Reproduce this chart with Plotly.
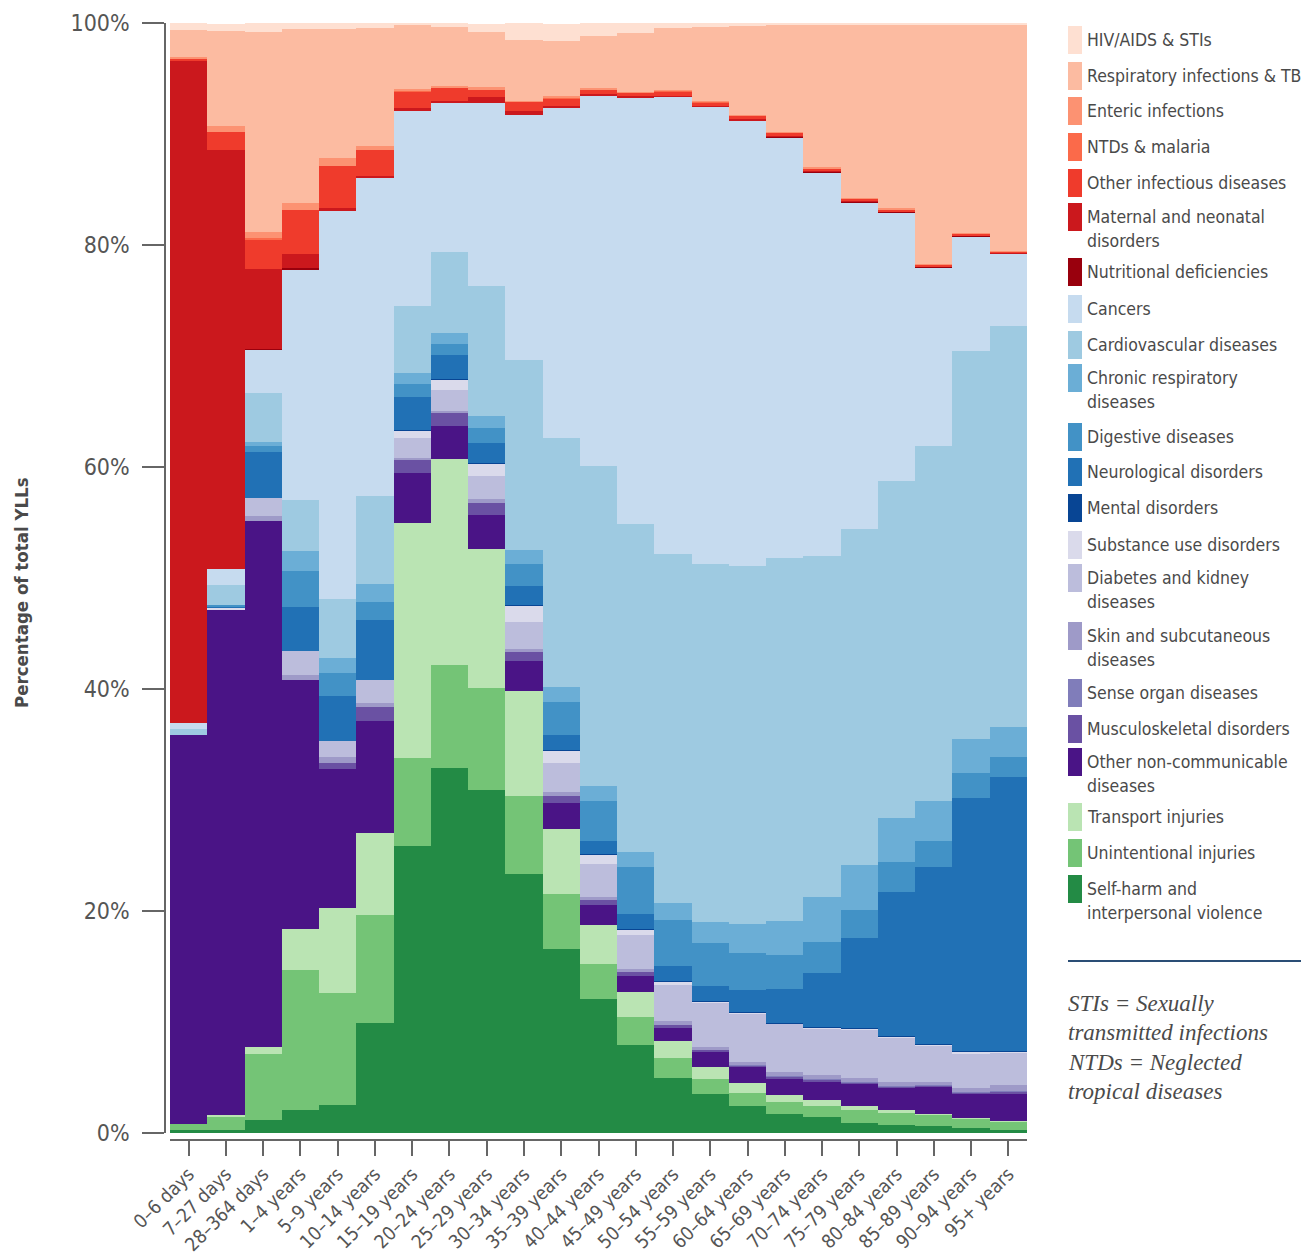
import plotly.graph_objects as go

age_groups = ["0–6 days", "7–27 days", "28–364 days", "1–4 years", "5–9 years", "10–14 years",
              "15–19 years", "20–24 years", "25–29 years", "30–34 years", "35–39 years",
              "40–44 years", "45–49 years", "50–54 years", "55–59 years", "60–64 years",
              "65–69 years", "70–74 years", "75–79 years", "80–84 years", "85–89 years",
              "90–94 years", "95+ years"]

# Percent of total YLLs per age group, bottom of stack first
self_harm = [0.3, 0.3, 1.15, 2.1, 2.5, 9.9, 25.85, 32.85, 30.9, 23.35, 16.55, 12.05, 7.9, 5.0, 3.5, 2.45, 1.7, 1.4, 0.9, 0.7, 0.65, 0.45, 0.3]
unintentional = [0.5, 1.2, 6.0, 12.55, 10.1, 9.75, 7.95, 9.3, 9.15, 7.0, 5.0, 3.15, 2.55, 1.75, 1.35, 1.15, 1.1, 1.0, 1.15, 1.1, 1.0, 0.85, 0.75]
transport = [0, 0.1, 0.6, 3.7, 7.65, 7.4, 21.2, 18.55, 12.6, 9.45, 5.85, 3.5, 2.25, 1.5, 1.1, 0.9, 0.6, 0.55, 0.35, 0.3, 0.1, 0.05, 0.05]
other_ncd = [35.1, 45.6, 47.4, 22.45, 12.55, 10.1, 4.5, 2.95, 3.05, 2.7, 2.3, 1.8, 1.45, 1.2, 1.35, 1.45, 1.55, 1.7, 2.05, 2.0, 2.4, 2.2, 2.5]
musculoskeletal = [0, 0, 0, 0, 0.5, 1.25, 1.2, 1.2, 1.1, 0.8, 0.7, 0.45, 0.4, 0.3, 0.15, 0.1, 0.1, 0.15, 0.1, 0.1, 0.1, 0.1, 0.1]
sense_organ = [0, 0, 0, 0, 0, 0, 0, 0, 0, 0, 0, 0, 0, 0, 0, 0.05, 0.05, 0.05, 0.05, 0.05, 0.05, 0.05, 0.05]
skin = [0, 0, 0.45, 0.45, 0.55, 0.35, 0.15, 0.2, 0.3, 0.3, 0.3, 0.35, 0.25, 0.3, 0.3, 0.3, 0.4, 0.35, 0.35, 0.35, 0.3, 0.35, 0.55]
diabetes_kidney = [0, 0, 1.6, 2.15, 1.45, 2.05, 1.8, 1.85, 2.05, 2.45, 2.6, 2.9, 3.05, 3.25, 4.0, 4.35, 4.35, 4.2, 4.35, 4.0, 3.25, 3.15, 2.95]
substance_use = [0, 0.1, 0, 0, 0, 0, 0.65, 1.0, 1.2, 1.45, 1.15, 0.9, 0.5, 0.35, 0.1, 0.1, 0.05, 0.1, 0.1, 0.1, 0.1, 0.1, 0.05]
mental = [0, 0, 0, 0, 0, 0, 0.05, 0.05, 0.05, 0.1, 0.05, 0.05, 0.05, 0.05, 0.05, 0.05, 0.05, 0.05, 0.05, 0.05, 0.05, 0.05, 0.05]
neurological = [0, 0.1, 4.15, 3.95, 4.1, 5.4, 3.0, 2.15, 1.75, 1.65, 1.4, 1.2, 1.35, 1.35, 1.35, 1.95, 3.0, 4.9, 8.15, 12.95, 15.95, 22.85, 24.75]
digestive = [0, 0.2, 0.5, 3.3, 2.05, 1.65, 1.1, 1.0, 1.35, 2.0, 2.9, 3.6, 4.25, 4.1, 3.85, 3.4, 3.1, 2.8, 2.45, 2.7, 2.4, 2.25, 1.8]
chronic_resp = [0, 0, 0.4, 1.8, 1.3, 1.6, 1.05, 1.0, 1.1, 1.25, 1.35, 1.3, 1.35, 1.55, 1.95, 2.6, 3.05, 4.05, 4.05, 3.95, 3.55, 3.05, 2.7]
cardiovascular = [0.5, 1.75, 4.4, 4.6, 5.4, 7.95, 6.05, 7.3, 11.7, 17.1, 22.5, 28.8, 29.55, 31.45, 32.2, 32.25, 32.7, 30.65, 30.3, 30.35, 31.95, 34.95, 36.1]
cancers = [0.5, 1.5, 3.9, 20.7, 34.95, 28.7, 17.6, 13.4, 16.5, 22.1, 29.65, 33.4, 38.4, 41.2, 41.2, 40.15, 37.9, 34.6, 29.45, 24.25, 16.15, 10.35, 6.5]
nutritional = [0, 0, 0.05, 0.15, 0.05, 0, 0, 0, 0, 0, 0, 0, 0, 0, 0, 0, 0.05, 0.05, 0.05, 0.05, 0.05, 0.05, 0.05]
maternal_neonatal = [59.7, 37.75, 7.2, 1.3, 0.15, 0.15, 0.15, 0.15, 0.5, 0.4, 0.25, 0.15, 0.1, 0.1, 0.1, 0.1, 0.05, 0.05, 0.05, 0.05, 0.05, 0.05, 0.05]
other_infectious = [0.2, 1.55, 2.7, 3.95, 3.85, 2.35, 1.5, 1.2, 0.7, 0.8, 0.65, 0.4, 0.3, 0.4, 0.3, 0.3, 0.3, 0.25, 0.2, 0.15, 0.1, 0.1, 0.1]
ntds_malaria = [0, 0, 0.15, 0, 0, 0, 0.05, 0.05, 0.05, 0.05, 0.05, 0.05, 0.05, 0.05, 0.05, 0.05, 0, 0, 0, 0, 0, 0, 0]
enteric = [0.1, 0.55, 0.5, 0.6, 0.7, 0.35, 0.2, 0.15, 0.15, 0.05, 0.15, 0.05, 0.05, 0.05, 0.05, 0.05, 0.1, 0.1, 0.1, 0.1, 0.1, 0.1, 0.1]
respiratory_tb = [2.5, 8.55, 18.05, 15.75, 11.65, 10.6, 5.75, 5.3, 4.95, 5.45, 5.0, 4.75, 5.3, 5.6, 6.7, 8.0, 9.6, 12.85, 15.6, 16.6, 21.6, 18.8, 20.4]
hiv_stis = [0.6, 0.7, 0.8, 0.5, 0.5, 0.45, 0.25, 0.35, 0.8, 1.6, 1.55, 1.2, 0.9, 0.45, 0.35, 0.25, 0.2, 0.15, 0.1, 0.1, 0.1, 0.1, 0.1]

# (legend label, values, colour) from top of the stack / legend to bottom
series = [
    ("HIV/AIDS & STIs", hiv_stis, "#fee0d2"),
    ("Respiratory infections & TB", respiratory_tb, "#fcbba1"),
    ("Enteric infections", enteric, "#fc9272"),
    ("NTDs & malaria", ntds_malaria, "#fb6a4a"),
    ("Other infectious diseases", other_infectious, "#ef3b2c"),
    ("Maternal and neonatal\ndisorders", maternal_neonatal, "#cb181d"),
    ("Nutritional deficiencies", nutritional, "#99000d"),
    ("Cancers", cancers, "#c6dbef"),
    ("Cardiovascular diseases", cardiovascular, "#9ecae1"),
    ("Chronic respiratory\ndiseases", chronic_resp, "#6baed6"),
    ("Digestive diseases", digestive, "#4292c6"),
    ("Neurological disorders", neurological, "#2171b5"),
    ("Mental disorders", mental, "#084594"),
    ("Substance use disorders", substance_use, "#dadaeb"),
    ("Diabetes and kidney\ndiseases", diabetes_kidney, "#bcbddc"),
    ("Skin and subcutaneous\ndiseases", skin, "#9e9ac8"),
    ("Sense organ diseases", sense_organ, "#807dba"),
    ("Musculoskeletal disorders", musculoskeletal, "#6a51a3"),
    ("Other non-communicable\ndiseases", other_ncd, "#4a1486"),
    ("Transport injuries", transport, "#bae4b3"),
    ("Unintentional injuries", unintentional, "#74c476"),
    ("Self-harm and\ninterpersonal violence", self_harm, "#238b45"),
]

legend_first_line_y = [40, 76, 111, 147, 183, 217, 272, 309, 345, 378, 437, 472, 508, 545,
                       578, 636, 693, 729, 762, 817, 853, 889]

footnote_lines = ["STIs = Sexually", "transmitted infections", "NTDs = Neglected", "tropical diseases"]

SANS = "Liberation Sans Narrow, DejaVu Sans Condensed, Liberation Sans, Arial, sans-serif"
OFF = 8                      # page body margin of the browser
W, H = 1309 - OFF, 1257 - OFF
# plot paper edges in screen pixels
PL, PR, PT, PB = 165, 1027, 23, 1140


def px(x):
    return (x - PL) / (PR - PL)


def py(y):
    return (PB - y) / (PB - PT)


fig = go.Figure()
for name, vals, col in reversed(series):
    fig.add_trace(go.Bar(
        x=age_groups, y=vals, name=name.replace("\n", " "),
        marker=dict(color=col, line=dict(width=0)),
        width=1.0, showlegend=False,
        hovertemplate="%{x}: %{y:.1f}%<extra>" + name.replace("\n", " ") + "</extra>",
    ))

shapes = []
annotations = []
for (name, vals, col), ly in zip(series, legend_first_line_y):
    shapes.append(dict(type="rect", xref="paper", yref="paper",
                       x0=px(1068), x1=px(1082), y0=py(ly + 14), y1=py(ly - 14),
                       fillcolor=col, line=dict(width=0)))
    for i, line in enumerate(name.split("\n")):
        annotations.append(dict(xref="paper", yref="paper", x=px(1085), y=py(ly + 24 * i),
                                xanchor="left", yanchor="middle", text=line, showarrow=False,
                                font=dict(family=SANS, size=17.5, color="#4a4a4a")))

shapes.append(dict(type="line", xref="paper", yref="paper", x0=px(1068), x1=px(1308),
                   y0=py(961), y1=py(961), line=dict(color="#2a4d75", width=2)))
for i, line in enumerate(footnote_lines):
    annotations.append(dict(xref="paper", yref="paper", x=px(1066), y=py(1003 + 29.5 * i),
                            xanchor="left", yanchor="middle", text="<i>" + line + "</i>",
                            showarrow=False,
                            font=dict(family="Liberation Serif, DejaVu Serif, serif", size=23,
                                      color="#4a4a4a")))

annotations.append(dict(xref="paper", yref="paper", x=px(21), y=py(593), xanchor="center",
                        yanchor="middle", textangle=-90, showarrow=False,
                        text="<b>Percentage of total YLLs</b>",
                        font=dict(family=SANS, size=18.5, color="#4a4a4a")))

fig.update_layout(
    width=W, height=H,
    barmode="stack", bargap=0,
    plot_bgcolor="white", paper_bgcolor="white",
    margin=dict(l=PL - OFF, r=W - (PR - OFF), t=PT - OFF, b=H - (PB - OFF), pad=0,
                autoexpand=False),
    xaxis=dict(domain=[px(170), 1], anchor="free", position=0, range=[-0.5, 22.5],
               automargin=False,
               showline=True, linecolor="#666", linewidth=1.5,
               ticks="outside", ticklen=15, tickcolor="#666", tickwidth=1.5,
               tickangle=-45, tickfont=dict(family=SANS, size=19, color="#555"),
               showgrid=False, zeroline=False, fixedrange=True),
    yaxis=dict(domain=[py(1133), 1], anchor="free", position=0, range=[0, 100],
               automargin=False,
               tickvals=[0, 20, 40, 60, 80, 100],
               ticktext=["0%", "20%", "40%", "60%", "80%", "100%"],
               showline=True, linecolor="#666", linewidth=1.5,
               ticks="outside", ticklen=22, tickcolor="#666", tickwidth=1.5,
               ticklabelstandoff=8,
               tickfont=dict(family=SANS, size=23, color="#555"),
               showgrid=False, zeroline=False, fixedrange=True),
    shapes=shapes, annotations=annotations,
)

fig.write_html("out.html")
